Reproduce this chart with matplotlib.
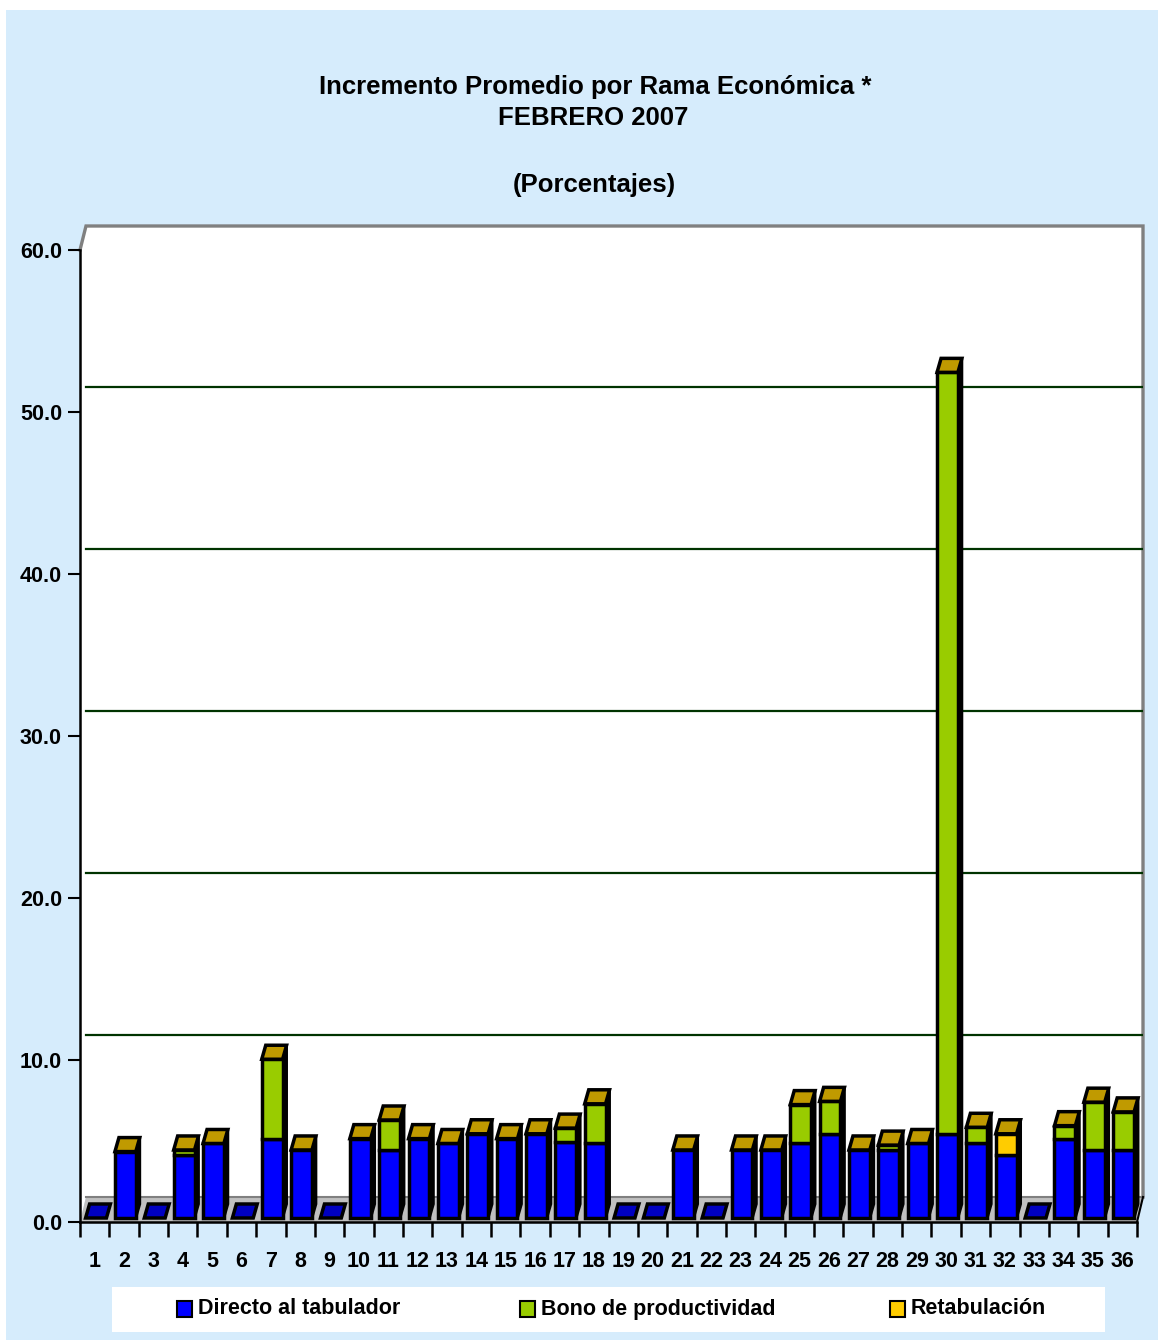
import matplotlib
matplotlib.use('Agg')
import matplotlib.pyplot as plt
from matplotlib.patches import Polygon, Rectangle
import numpy as np

plt.rcParams['font.family'] = ['Liberation Sans', 'DejaVu Sans']

# ---------------- data ----------------
categories = [str(i) for i in range(1, 37)]
directo = [0, 4.1, 0, 3.9, 4.6, 0, 4.9, 4.2, 0, 4.9, 4.2, 4.9, 4.6, 5.2, 4.9, 5.2, 4.7, 4.6,
           0, 0, 4.2, 0, 4.2, 4.2, 4.6, 5.2, 4.2, 4.2, 4.6, 5.2, 4.6, 3.9, 0, 4.9, 4.2, 4.2]
bono = [0, 0, 0, 0.3, 0, 0, 4.9, 0, 0, 0, 1.85, 0, 0, 0, 0, 0, 0.85, 2.45,
        0, 0, 0, 0, 0, 0, 2.4, 2.0, 0, 0.3, 0, 47.0, 1.0, 0, 0, 0.8, 2.95, 2.35]
retab = [0, 0, 0, 0, 0, 0, 0, 0, 0, 0, 0, 0, 0, 0, 0, 0, 0, 0,
         0, 0, 0, 0, 0, 0, 0, 0, 0, 0, 0, 0, 0, 1.3, 0, 0, 0, 0]
series_names = ['Directo al tabulador', 'Bono de productividad', 'Retabulación']
series_colors = ['#0000FF', '#99CC00', '#FFCC00']
yticks = [0, 10, 20, 30, 40, 50, 60]
title_lines = ['Incremento Promedio por Rama Económica *', 'FEBRERO 2007', '(Porcentajes)']

# ---------------- figure ----------------
W, H = 1158, 1340
fig = plt.figure(figsize=(W / 100, H / 100), dpi=100)
fig.patch.set_facecolor('white')


def fx(px):
    return px / W


def fy(py):
    return 1 - py / H


fig.patches.append(Rectangle((fx(6), 0), 1 - fx(6), 1 - 10 / H, transform=fig.transFigure,
                             facecolor='#D6ECFC', edgecolor='none', zorder=-2))

ax = fig.add_axes([fx(80), fy(1222), (1143 - 80) / W, (1222 - 226) / H])
ax.set_zorder(1)
ax.set_facecolor('none')
pxc = (1137 - 80) / 36.0
pxv = (1222 - 250) / 60.0
XMAX = (1143 - 80) / pxc
YMAX = (1222 - 226) / pxv
ax.set_xlim(0, XMAX)
ax.set_ylim(0, YMAX)
n = len(categories)
wdx = 6 / pxc
wdy = 25 / pxv

# walls
ax.add_patch(Polygon([(wdx, wdy), (n + wdx, wdy), (n + wdx, YMAX), (wdx, YMAX)],
                     closed=True, facecolor='white', edgecolor='none', zorder=0.5, clip_on=False))
ax.add_patch(Polygon([(0, 0), (wdx, wdy), (wdx, YMAX), (0, 60)],
                     closed=True, facecolor='white', edgecolor='none', zorder=0.5, clip_on=False))
ax.plot([0, wdx, n + wdx, n + wdx], [60, YMAX, YMAX, wdy], color='#808080', lw=2.4,
        zorder=0.8, clip_on=False, solid_joinstyle='miter')
# floor
ax.add_patch(Polygon([(0, 0), (n, 0), (n + wdx, wdy), (wdx, wdy)], closed=True,
                     facecolor='#C0C0C0', edgecolor='none', zorder=1, clip_on=False))
ax.plot([wdx, n + wdx], [wdy, wdy], color='#808080', lw=1.5, zorder=1.1, clip_on=False)
ax.plot([n, n + wdx], [0, wdy], color='black', lw=1.5, zorder=1.1, clip_on=False)

# gridlines on back wall
for v in yticks[1:-1]:
    ax.plot([wdx, n + wdx], [v + wdy, v + wdy], color='#003300', lw=1.6, zorder=1.5)

# bars
off, bw = 0.19, 0.71
bdx, bdy = 4 / pxc, 14 / pxv
base = 4 / pxv
x = np.arange(n) + off
d = np.array(directo)
b = np.array(bono)
r = np.array(retab)
stack = [d, b, r]
bottoms = [np.full(n, base), base + d, base + d + b]
for vals, bots, col in zip(stack, bottoms, series_colors):
    m = vals > 0
    ax.bar(x[m], vals[m], width=bw, bottom=bots[m], align='edge', color=col,
           edgecolor='black', linewidth=2.5, zorder=3)
total = d + b + r
for i in range(n):
    x0 = x[i]
    top = base + total[i]
    if total[i] > 0:
        ax.add_patch(Polygon([(x0 + bw, base), (x0 + bw + bdx, base + bdy),
                              (x0 + bw + bdx, top + bdy), (x0 + bw, top)], closed=True,
                             facecolor='black', edgecolor='black', lw=2, zorder=2.9))
        ax.add_patch(Polygon([(x0, top), (x0 + bw, top), (x0 + bw + bdx, top + bdy),
                              (x0 + bdx, top + bdy)], closed=True,
                             facecolor='#C09A00', edgecolor='black', lw=2.5, zorder=3.1))
    else:
        ax.add_patch(Polygon([(x0, base), (x0 + bw, base), (x0 + bw + bdx, base + bdy),
                              (x0 + bdx, base + bdy)], closed=True,
                             facecolor='#0000C0', edgecolor='black', lw=2.5, zorder=3.1))

# axes / ticks
for s in ['top', 'right']:
    ax.spines[s].set_visible(False)
ax.spines['left'].set_bounds(0, 60)
ax.spines['bottom'].set_bounds(0, n)
ax.spines['left'].set_linewidth(1.8)
ax.spines['bottom'].set_linewidth(1.8)
ax.spines['left'].set_zorder(4)
ax.spines['bottom'].set_zorder(4)

ax.set_yticks(yticks)
ax.set_yticklabels([f'{v:.1f}' for v in yticks], fontsize=15.5, fontweight='bold')
ax.tick_params(axis='y', length=9, width=1.5, pad=4)
ax.set_xticks(np.arange(n + 1))
ax.set_xticklabels([])
ax.tick_params(axis='x', which='major', length=11, width=1.8)
ax.set_xticks(np.arange(n) + 0.5, minor=True)
ax.set_xticklabels(categories, minor=True, fontsize=15.5, fontweight='bold')
ax.tick_params(axis='x', which='minor', length=0, pad=21)

# titles
fig.text(fx(595), fy(87), title_lines[0], ha='center', va='center', fontsize=18.5, fontweight='bold')
fig.text(fx(593), fy(118), title_lines[1], ha='center', va='center', fontsize=18.5, fontweight='bold')
fig.text(fx(594), fy(185), title_lines[2], ha='center', va='center', fontsize=18.5, fontweight='bold')

# legend
fig.patches.append(Rectangle((fx(112), fy(1332)), (1105 - 112) / W, (1332 - 1287) / H,
                             transform=fig.transFigure, facecolor='white', edgecolor='none', zorder=-1))
leg_x = [177, 520, 890]
for lx, name, col in zip(leg_x, series_names, series_colors):
    fig.patches.append(Rectangle((fx(lx), fy(1317)), 15 / W, 16 / H, transform=fig.transFigure,
                                 facecolor=col, edgecolor='black', lw=1.5, zorder=2))
    fig.text(fx(lx + 21), fy(1309), name, ha='left', va='center', fontsize=15.5,
             fontweight='bold', zorder=3)

fig.savefig('out.png', dpi=100, facecolor=fig.get_facecolor())
